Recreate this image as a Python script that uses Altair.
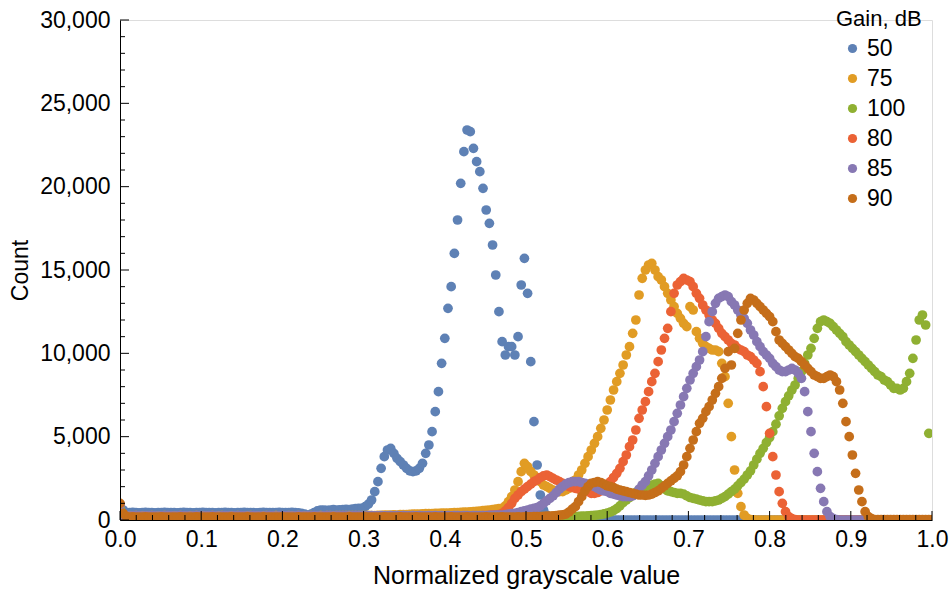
import altair as alt
import pandas as pd

# ---- data (256 histogram bins, x = bin / 255) ----
gains = ["50", "75", "100", "80", "85", "90"]
colors = ["#5E81B5", "#E19C24", "#8FB032", "#EB6235", "#8778B3", "#C56E1A"]
n_bins = 256

gain_50 = [
    900, 600, 450, 440, 460, 450, 430, 450, 460, 440, 450, 430, 440, 450, 460, 440,
    450, 440, 430, 450, 460, 450, 440, 430, 450, 440, 460, 450, 440, 450, 430, 440,
    450, 460, 440, 450, 430, 440, 450, 460, 450, 440, 450, 430, 450, 460, 440, 450,
    450, 440, 460, 450, 440, 450, 460, 440, 430, 400, 350, 300, 350, 450, 550, 600,
    600, 580, 600, 620, 600, 610, 620, 640, 620, 650, 680, 700, 700, 800, 950, 1200,
    1700, 2300, 3100, 3800, 4200, 4300, 4000, 3700, 3500, 3300, 3100, 2950, 2900, 2950, 3100, 3400,
    4000, 4500, 5300, 6500, 7700, 9400, 10900, 12700, 14000, 16000, 18000, 20200, 22100, 23400, 23300, 22300,
    21500, 20900, 19900, 18600, 17800, 16500, 14700, 12500, 10700, 9900, 10400, 10400, 9900, 11000, 14100, 15700,
    13600, 9500, 5900, 3300, 1500, 600, 300, 150, 100, 80, 60, 50, 40, 30, 20, 10,
    10, 10, 5, 5, 0, 0, 0, 0, 0, 0, 0, 0, 0, 0, 0, 0,
    0, 0, 0, 0, 0, 0, 0, 0, 0, 0, 0, 0, 0, 0, 0, 0,
    0, 0, 0, 0, 0, 0, 0, 0, 0, 0, 0, 0, 0, 0, 0, 0,
    0, 0, 0, 0, 0, 0, 0, 0, 0, 0, 0, 0, 0, 0, 0, 0,
    0, 0, 0, 0, 0, 0, 0, 0, 0, 0, 0, 0, 0, 0, 0, 0,
    0, 0, 0, 0, 0, 0, 0, 0, 0, 0, 0, 0, 0, 0, 0, 0,
    0, 0, 0, 0, 0, 0, 0, 0, 0, 0, 0, 0, 0, 0, 0, 0,
]

gain_75 = [
    800, 350, 250, 240, 250, 260, 240, 250, 250, 240, 260, 250, 240, 250, 260, 250,
    250, 240, 250, 260, 250, 240, 250, 250, 260, 240, 250, 250, 240, 260, 250, 250,
    260, 250, 240, 250, 250, 260, 250, 240, 250, 260, 250, 250, 240, 250, 260, 250,
    250, 260, 250, 240, 250, 260, 250, 250, 260, 250, 240, 250, 260, 250, 250, 260,
    250, 260, 260, 250, 260, 270, 260, 260, 270, 260, 270, 270, 260, 270, 280, 270,
    270, 280, 280, 290, 300, 300, 310, 300, 320, 330, 330, 340, 350, 350, 360, 370,
    380, 380, 390, 400, 400, 410, 420, 420, 430, 440, 450, 460, 470, 480, 490, 500,
    520, 540, 560, 580, 600, 620, 650, 680, 700, 850, 1100, 1400, 1800, 2300, 2900, 3400,
    3200, 2900, 2700, 2500, 2300, 2100, 2000, 1900, 1800, 1750, 1700, 1700, 1800, 1900, 2100, 2400,
    2700, 3000, 3400, 3800, 4200, 4600, 5000, 5500, 6000, 6600, 7200, 7800, 8300, 8800, 9300, 9900,
    10400, 11200, 12000, 13500, 14500, 15000, 15300, 15400, 15000, 14600, 14400, 14000, 13600, 13200, 12800, 12400,
    12100, 11800, 11600, 12800, 12600, 11300, 10900, 10600, 10400, 10300, 10200, 10200, 10100, 9400, 8600, 7000,
    5000, 3000, 1600, 800, 300, 100, 30, 10, 0, 0, 0, 0, 0, 0, 0, 0,
    0, 0, 0, 0, 0, 0, 0, 0, 0, 0, 0, 0, 0, 0, 0, 0,
    0, 0, 0, 0, 0, 0, 0, 0, 0, 0, 0, 0, 0, 0, 0, 0,
    0, 0, 0, 0, 0, 0, 0, 0, 0, 0, 0, 0, 0, 0, 0, 0,
]

gain_100 = [
    800, 150, 60, 50, 50, 40, 50, 60, 50, 40, 50, 50, 60, 50, 40, 50,
    50, 40, 60, 50, 50, 40, 50, 60, 50, 40, 50, 50, 60, 50, 40, 50,
    50, 40, 60, 50, 50, 40, 50, 60, 50, 40, 50, 50, 60, 50, 40, 50,
    50, 40, 60, 50, 50, 40, 50, 60, 50, 40, 50, 50, 60, 50, 40, 50,
    50, 40, 60, 50, 50, 40, 50, 60, 50, 40, 50, 50, 60, 50, 40, 50,
    50, 40, 60, 50, 50, 40, 50, 60, 50, 40, 50, 50, 60, 50, 40, 50,
    50, 40, 60, 50, 50, 40, 50, 60, 50, 40, 50, 50, 60, 50, 40, 50,
    50, 60, 50, 60, 60, 50, 60, 70, 60, 70, 70, 80, 80, 80, 90, 90,
    100, 100, 110, 120, 120, 130, 140, 150, 150, 160, 170, 180, 190, 200, 200, 210,
    220, 230, 240, 250, 260, 280, 300, 330, 370, 420, 480, 560, 680, 850, 1050, 1200,
    1350, 1500, 1650, 1800, 1900, 2000, 2050, 2100, 2150, 2200, 2050, 1850, 1750, 1700, 1650, 1600,
    1600, 1550, 1450, 1350, 1300, 1250, 1200, 1150, 1100, 1100, 1100, 1150, 1200, 1300, 1400, 1550,
    1700, 1850, 2050, 2250, 2450, 2700, 2950, 3300, 3650, 4000, 4300, 4650, 4950, 5300, 5750, 6250,
    6700, 7100, 7450, 7800, 8100, 8500, 8900, 9400, 9900, 10300, 10900, 11500, 11900, 12000, 11900, 11800,
    11600, 11400, 11200, 11000, 10700, 10500, 10300, 10100, 9900, 9700, 9500, 9300, 9100, 8900, 8700, 8600,
    8400, 8300, 8100, 7900, 7900, 7800, 7900, 8300, 8800, 9700, 10800, 12000, 12300, 11700, 5200, 0,
]

gain_80 = [
    900, 300, 200, 190, 200, 210, 200, 190, 200, 200, 210, 200, 190, 200, 210, 200,
    200, 190, 200, 210, 200, 200, 190, 200, 210, 200, 190, 200, 200, 210, 200, 190,
    200, 210, 200, 190, 200, 200, 210, 200, 190, 200, 210, 200, 200, 190, 200, 210,
    200, 190, 200, 210, 200, 200, 190, 200, 210, 200, 190, 200, 200, 210, 200, 190,
    200, 210, 200, 190, 200, 200, 210, 200, 190, 200, 210, 200, 200, 190, 200, 210,
    200, 200, 210, 200, 200, 210, 200, 210, 200, 210, 210, 200, 210, 210, 200, 210,
    210, 210, 220, 220, 220, 230, 230, 230, 240, 240, 240, 240, 250, 250, 250, 250,
    250, 250, 260, 270, 280, 290, 300, 320, 400, 550, 750, 1000, 1300, 1500, 1700, 1850,
    2000, 2150, 2300, 2400, 2550, 2650, 2700, 2600, 2500, 2400, 2300, 2200, 2100, 2000, 1950, 1900,
    1850, 1800, 1750, 1700, 1600, 1600, 1650, 1750, 1900, 2100, 2300, 2550, 2800, 3100, 3500, 3900,
    4400, 4800, 5400, 6100, 6600, 7100, 7700, 8300, 8800, 9500, 10200, 10900, 11500, 12500, 13600, 14100,
    14300, 14500, 14400, 14300, 14000, 13600, 13300, 12900, 12600, 12300, 12000, 11800, 11500, 11200, 11000, 10800,
    10600, 10500, 10300, 10200, 10100, 9900, 9800, 9600, 9400, 8900, 8000, 6800, 5200, 3800, 2700, 1700,
    1000, 500, 200, 80, 30, 0, 0, 0, 0, 0, 0, 0, 0, 0, 0, 0,
    0, 0, 0, 0, 0, 0, 0, 0, 0, 0, 0, 0, 0, 0, 0, 0,
    0, 0, 0, 0, 0, 0, 0, 0, 0, 0, 0, 0, 0, 0, 0, 0,
]

gain_85 = [
    900, 300, 250, 240, 250, 260, 250, 240, 250, 250, 260, 250, 240, 250, 250, 260,
    250, 240, 250, 260, 250, 250, 240, 250, 260, 250, 240, 250, 250, 260, 250, 240,
    250, 260, 250, 240, 250, 250, 260, 250, 240, 250, 260, 250, 250, 240, 250, 260,
    250, 240, 250, 260, 250, 250, 240, 250, 260, 250, 240, 250, 250, 260, 250, 240,
    250, 260, 250, 240, 250, 250, 260, 250, 240, 250, 260, 250, 250, 240, 250, 260,
    250, 250, 260, 250, 250, 260, 250, 260, 250, 260, 250, 250, 260, 250, 260, 250,
    250, 260, 250, 260, 250, 260, 250, 260, 250, 260, 260, 250, 260, 260, 250, 260,
    260, 260, 270, 270, 280, 280, 290, 290, 300, 320, 350, 380, 400, 450, 500, 550,
    600, 650, 700, 750, 850, 1000, 1150, 1300, 1450, 1650, 1850, 2000, 2150, 2250, 2300, 2300,
    2300, 2250, 2200, 2150, 2100, 2000, 1900, 1800, 1750, 1700, 1600, 1550, 1500, 1450, 1400, 1400,
    1400, 1450, 1600, 1850, 2100, 2300, 2650, 3000, 3400, 3800, 4200, 4600, 5000, 5400, 5900, 6400,
    6900, 7400, 7900, 8400, 8800, 9200, 9600, 10100, 11000, 11900, 12500, 13000, 13300, 13400, 13500, 13400,
    13100, 12900, 12600, 12300, 12100, 11800, 11400, 11100, 10700, 10400, 10100, 9900, 9700, 9400, 9200, 9000,
    8900, 8900, 9000, 9100, 9000, 8800, 8500, 7700, 6500, 5300, 4000, 2900, 1900, 1100, 500, 200,
    80, 30, 0, 0, 0, 0, 0, 0, 0, 0, 0, 0, 0, 0, 0, 0,
    0, 0, 0, 0, 0, 0, 0, 0, 0, 0, 0, 0, 0, 0, 0, 0,
]

gain_90 = [
    1000, 400, 200, 180, 190, 180, 170, 180, 190, 180, 180, 170, 180, 190, 180, 180,
    180, 170, 180, 190, 180, 180, 170, 180, 190, 180, 180, 170, 180, 190, 180, 180,
    180, 170, 180, 190, 180, 180, 170, 180, 190, 180, 180, 170, 180, 190, 180, 180,
    180, 170, 180, 190, 180, 180, 170, 180, 190, 180, 180, 170, 180, 190, 180, 180,
    180, 170, 180, 190, 180, 180, 170, 180, 190, 180, 180, 170, 180, 190, 180, 180,
    180, 170, 180, 190, 180, 180, 170, 180, 190, 180, 180, 170, 180, 190, 180, 180,
    180, 170, 180, 190, 180, 180, 170, 180, 190, 180, 180, 170, 180, 190, 180, 180,
    180, 180, 180, 190, 180, 180, 180, 180, 190, 180, 180, 180, 180, 190, 180, 190,
    190, 190, 200, 200, 210, 220, 230, 240, 250, 270, 290, 310, 350, 480, 650, 800,
    1100, 1400, 1750, 2000, 2200, 2250, 2300, 2250, 2150, 2050, 2000, 1950, 1850, 1800, 1750, 1700,
    1650, 1600, 1550, 1500, 1500, 1480, 1500, 1550, 1650, 1750, 1900, 2050, 2200, 2350, 2500, 2650,
    2900, 3300, 3800, 4300, 4800, 5300, 5800, 6100, 6500, 6800, 7200, 7600, 8000, 8500, 9100, 10100,
    9300, 10300, 11200, 12000, 12600, 13000, 13300, 13200, 13000, 12800, 12600, 12400, 12200, 11900, 11300, 10800,
    10600, 10400, 10200, 10000, 9800, 9700, 9500, 9300, 9100, 8900, 8700, 8600, 8500, 8500, 8600, 8700,
    8600, 8300, 7800, 7000, 5900, 5000, 3900, 2800, 1800, 1100, 500, 200, 80, 30, 20, 20,
    20, 20, 20, 20, 20, 20, 20, 20, 20, 20, 20, 20, 20, 20, 20, 20,
]

series = [gain_50, gain_75, gain_100, gain_80, gain_85, gain_90]

x_major_ticks = [0.0, 0.1, 0.2, 0.3, 0.4, 0.5, 0.6, 0.7, 0.8, 0.9, 1.0]
x_minor_ticks = [round(k * 0.02, 2) for k in range(51) if k % 5 != 0]
y_major_ticks = [0, 5000, 10000, 15000, 20000, 25000, 30000]
y_minor_ticks = [k * 1000 for k in range(31) if k % 5 != 0]

# ---- build table ----
rows = []
for k, (g, vals) in enumerate(zip(gains, series)):
    assert len(vals) == n_bins, (g, len(vals))
    for i, v in enumerate(vals):
        rows.append({"x": i / (n_bins - 1), "count": v, "gain": g, "ord": k * 1000 + i})
df = pd.DataFrame(rows)

W, H = 812, 500
FONT = "Liberation Sans"

xscale = alt.Scale(domain=[0, 1], nice=False, zero=False)
yscale = alt.Scale(domain=[0, 30000], nice=False)

points = alt.Chart(df).mark_circle(size=95, opacity=1, clip=True).encode(
    x=alt.X("x:Q", scale=xscale,
            axis=alt.Axis(values=x_major_ticks, format=".1f", ticks=False, tickSize=0,
                          grid=False, domainColor="black", domainWidth=1,
                          labelFontSize=23, labelPadding=8, labelColor="black",
                          labelFlush=False, title="Normalized grayscale value",
                          titleFontSize=25, titlePadding=12, titleColor="black",
                          titleFontWeight="normal", zindex=1)),
    y=alt.Y("count:Q", scale=yscale,
            axis=alt.Axis(values=y_major_ticks, format=",d", ticks=False, tickSize=0,
                          grid=False, domainColor="black", domainWidth=1,
                          labelFontSize=23, labelPadding=10, labelColor="black",
                          labelFlush=False, title="Count", titleFontSize=23,
                          titlePadding=7, titleColor="black", titleFontWeight="normal",
                          zindex=1)),
    color=alt.Color("gain:N", sort=gains,
                    scale=alt.Scale(domain=gains, range=colors),
                    legend=alt.Legend(title="Gain, dB", orient="none", legendX=716, legendY=-11,
                                      symbolType="circle", symbolSize=85, symbolStrokeWidth=0,
                                      symbolOffset=5,
                                      labelFontSize=23, titleFontSize=22, titleFontWeight="normal",
                                      titleColor="black", labelColor="black", rowPadding=6,
                                      titlePadding=6, padding=0, labelOffset=3)),
    order=alt.Order("ord:Q"),
)

xmaj = alt.Chart(pd.DataFrame({"x": x_major_ticks})).mark_rule(color="black", strokeWidth=1).encode(
    x=alt.X("x:Q", scale=xscale), y=alt.value(H), y2=alt.value(H - 9))
xmin = alt.Chart(pd.DataFrame({"x": x_minor_ticks})).mark_rule(color="black", strokeWidth=1).encode(
    x=alt.X("x:Q", scale=xscale), y=alt.value(H), y2=alt.value(H - 5))
ymaj = alt.Chart(pd.DataFrame({"count": y_major_ticks})).mark_rule(color="black", strokeWidth=1).encode(
    y=alt.Y("count:Q", scale=yscale), x=alt.value(0), x2=alt.value(9))
ymin = alt.Chart(pd.DataFrame({"count": y_minor_ticks})).mark_rule(color="black", strokeWidth=1).encode(
    y=alt.Y("count:Q", scale=yscale), x=alt.value(0), x2=alt.value(5))

chart = alt.layer(points, xmaj, xmin, ymaj, ymin).properties(
    width=W, height=H,
    autosize=alt.AutoSizeParams(type="none"),
    padding={"left": 120, "top": 20, "right": 19, "bottom": 70},
).configure_view(strokeWidth=0).configure(font=FONT).configure_axis(
    labelFont=FONT, titleFont=FONT).configure_legend(labelFont=FONT, titleFont=FONT)

chart.save("out.html", embed_options={"renderer": "svg", "actions": False})
